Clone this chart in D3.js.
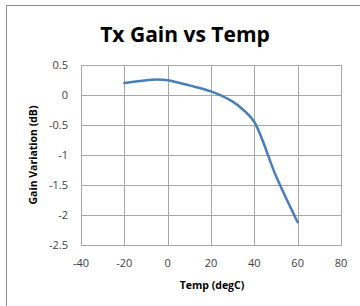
<!DOCTYPE html>
<html>
<head>
<meta charset="utf-8">
<script src="https://cdn.jsdelivr.net/npm/d3@7"></script>
<style>
  body { margin: 0; background: #fff; }
  text { font-family: "Open Sans", "Liberation Sans", sans-serif; }
</style>
</head>
<body>
<svg id="chart" width="360" height="306"></svg>
<script>
// temperature (degC) and gain variation (dB)
const temps = [-20, -5, 0, 10, 20, 30, 35, 40, 50, 60];
const gains = [0.2, 0.26, 0.245, 0.16, 0.06, -0.11, -0.25, -0.45, -1.35, -2.12];
const xTicks = [-40, -20, 0, 20, 40, 60, 80];
const yTicks = [0.5, 0, -0.5, -1, -1.5, -2, -2.5];

const svg = d3.select("#chart");
const m = { left: 81, right: 341, top: 65, bottom: 245 };

// outer chart border (runs off the right/bottom of the picture)
svg.append("rect")
  .attr("x", 6.5).attr("y", 5.5).attr("width", 400).attr("height", 400)
  .attr("fill", "#fff").attr("stroke", "#8c8c8c").attr("stroke-width", 1);

const x = d3.scaleLinear().domain([-40, 80]).range([m.left, m.right]);
const y = d3.scaleLinear().domain([-2.5, 0.5]).range([m.bottom, m.top]);

// gridlines drawn as 1px filled bars
const grid = svg.append("g").attr("fill", "#a6a6a6");
grid.selectAll("rect.v").data(xTicks).join("rect")
  .attr("class", "v")
  .attr("x", d => Math.round(x(d))).attr("y", m.top)
  .attr("width", 1).attr("height", m.bottom - m.top + 1);
grid.selectAll("rect.h").data(yTicks).join("rect")
  .attr("class", "h")
  .attr("x", m.left).attr("y", d => Math.round(y(d)))
  .attr("width", m.right - m.left + 1).attr("height", 1);

// tick labels
svg.append("g").selectAll("text").data(yTicks).join("text")
  .attr("x", 68).attr("y", d => y(d) + 4)
  .attr("text-anchor", "end").attr("font-size", 11).attr("fill", "#404040")
  .text(d => d);

svg.append("g").selectAll("text").data(xTicks).join("text")
  .attr("x", d => x(d)).attr("y", 267)
  .attr("text-anchor", "middle").attr("font-size", 11).attr("fill", "#404040")
  .text(d => d);

// data line
const line = d3.line()
  .x((d, i) => x(temps[i]))
  .y(d => y(d))
  .curve(d3.curveCatmullRom.alpha(0.5));

svg.append("path")
  .datum(gains)
  .attr("d", line)
  .attr("fill", "none")
  .attr("stroke", "#4a7ebb")
  .attr("stroke-width", 2.5)
  .attr("stroke-linecap", "round");

// titles
svg.append("text")
  .attr("x", 185).attr("y", 42)
  .attr("text-anchor", "middle").attr("font-size", 21).attr("font-weight", "bold")
  .attr("fill", "#000")
  .text("Tx Gain vs Temp");

svg.append("text")
  .attr("x", 212).attr("y", 289)
  .attr("text-anchor", "middle").attr("font-size", 10.5).attr("font-weight", "bold")
  .attr("fill", "#000")
  .text("Temp (degC)");

svg.append("text")
  .attr("transform", "translate(37,155) rotate(-90)")
  .attr("text-anchor", "middle").attr("font-size", 10.5).attr("font-weight", "bold")
  .attr("fill", "#000")
  .text("Gain Variation (dB)");
</script>
</body>
</html>
